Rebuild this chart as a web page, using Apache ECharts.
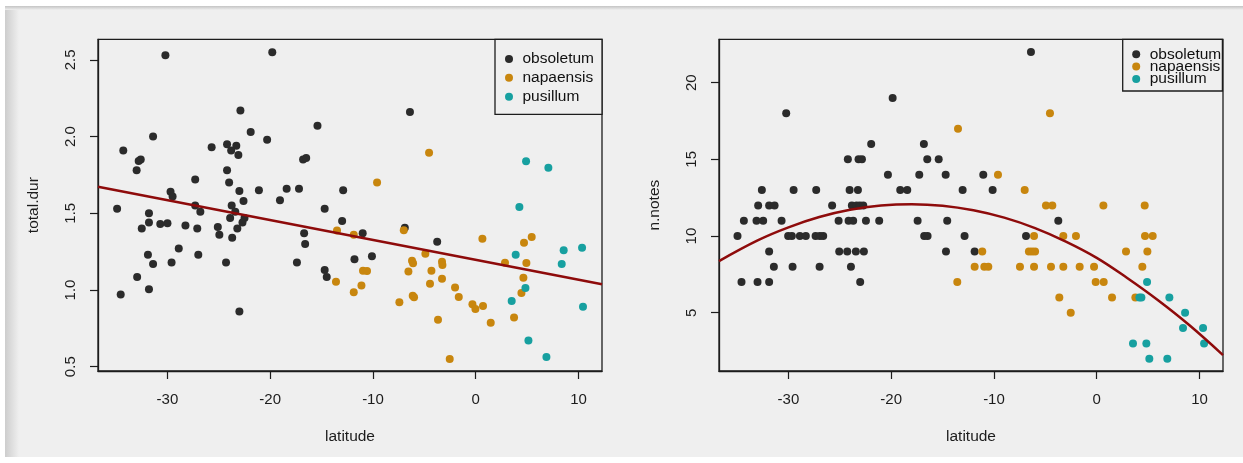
<!DOCTYPE html>
<html>
<head>
<meta charset="utf-8">
<script src="https://cdn.jsdelivr.net/npm/echarts@6/dist/echarts.min.js"></script>
<style>
  html, body { margin: 0; padding: 0; background: #ffffff; }
  #chart { width: 1243px; height: 463px; }
</style>
</head>
<body>
<div id="chart"></div>
<script>
// Species, in legend order, and their point colours
const speciesNames = ['obsoletum', 'napaensis', 'pusillum'];
const speciesColors = ['#2b2b2b', '#c8860e', '#17a0a0'];

// Left panel: latitude vs total call duration, one [latitude, total.dur] pair per recording
const durObsoletum = [
  [-30.2, 2.53], [-19.8, 2.55], [-22.9, 2.17], [-31.4, 2.00], [-34.3, 1.91], [-25.7, 1.93],
  [-24.2, 1.95], [-23.3, 1.94], [-23.8, 1.91], [-23.1, 1.88], [-21.9, 2.03], [-20.3, 1.98],
  [-15.4, 2.07], [-33.0, 1.78], [-32.8, 1.84], [-32.6, 1.85], [-24.2, 1.78], [-24.0, 1.70],
  [-27.3, 1.72], [-16.8, 1.85], [-16.5, 1.86], [-23.0, 1.645], [-21.1, 1.65], [-18.4, 1.66],
  [-17.2, 1.66], [-12.9, 1.65], [-29.7, 1.64], [-29.5, 1.61], [-22.6, 1.58], [-19.05, 1.585],
  [-34.9, 1.53], [-14.7, 1.53], [-23.75, 1.55], [-31.8, 1.50], [-27.3, 1.55], [-26.8, 1.51],
  [-23.4, 1.51], [-23.9, 1.47], [-22.5, 1.47], [-22.7, 1.44], [-23.2, 1.40], [-23.7, 1.34],
  [-31.8, 1.44], [-32.5, 1.40], [-30.7, 1.43], [-30.0, 1.435], [-28.25, 1.42], [-27.1, 1.40],
  [-25.1, 1.41], [-24.95, 1.36], [-16.7, 1.37], [-16.6, 1.30], [-13.0, 1.45], [-31.9, 1.23],
  [-31.4, 1.17], [-28.9, 1.27], [-29.6, 1.18], [-27.0, 1.23], [-24.3, 1.18], [-17.4, 1.18],
  [-14.7, 1.13], [-14.5, 1.085], [-32.95, 1.085], [-31.8, 1.005], [-34.55, 0.97], [-23.0, 0.86],
  [-11.8, 1.20], [-11.0, 1.37], [-10.1, 1.22], [-6.9, 1.405], [-6.4, 2.16], [-3.75, 1.315]
];
const durNapaensis = [
  [-9.6, 1.70], [-13.5, 1.387], [-11.87, 1.36], [-7.0, 1.39], [-13.6, 1.054], [-11.87, 0.985],
  [-11.12, 1.03], [-10.97, 1.126], [-10.58, 1.124], [-7.43, 0.92], [-6.55, 1.12], [-6.2, 1.19],
  [-6.1, 1.175], [-6.13, 0.963], [-6.0, 0.952], [-4.9, 1.237], [-4.31, 1.126], [-4.45, 1.041],
  [-3.28, 1.184], [-3.24, 1.163], [-3.28, 1.074], [-3.67, 0.806], [-2.01, 1.017], [-1.65, 0.954],
  [-2.53, 0.55], [-0.32, 0.907], [-0.03, 0.876], [0.71, 0.896], [0.65, 1.334], [1.46, 0.787],
  [2.85, 1.178], [3.73, 0.82], [4.7, 1.308], [5.45, 1.345], [4.93, 1.176], [4.64, 1.08],
  [4.45, 0.98], [-4.54, 1.895]
];
const durPusillum = [
  [4.9, 1.839], [7.07, 1.797], [4.25, 1.541], [3.89, 1.23], [8.56, 1.259], [10.35, 1.276],
  [8.37, 1.17], [4.84, 1.013], [3.5, 0.928], [10.44, 0.891], [5.13, 0.67], [6.88, 0.563]
];

// Right panel: latitude vs number of notes, one [latitude, n.notes] pair per recording
const notesObsoletum = [
  [-6.4, 22], [-19.86, 19], [-30.22, 18], [-21.95, 16], [-16.82, 16],
  [-24.22, 15], [-23.18, 15], [-22.85, 15], [-16.49, 15], [-15.38, 15],
  [-20.32, 14], [-17.27, 14], [-14.7, 14], [-11.04, 14],
  [-32.59, 13], [-29.5, 13], [-27.3, 13], [-24.05, 13], [-23.24, 13], [-19.12, 13], [-18.44, 13], [-13.05, 13], [-10.13, 13],
  [-32.95, 12], [-31.88, 12], [-31.35, 12], [-25.75, 12], [-23.83, 12], [-23.37, 12], [-23.05, 12], [-22.72, 12],
  [-34.34, 11], [-33.11, 11], [-32.46, 11], [-30.67, 11], [-25.12, 11], [-24.15, 11], [-23.7, 11], [-22.46, 11],
  [-21.17, 11], [-17.43, 11], [-14.55, 11], [-3.74, 11],
  [-34.96, 10], [-30.03, 10], [-29.67, 10], [-28.89, 10], [-28.31, 10], [-27.36, 10], [-26.94, 10], [-26.62, 10],
  [-16.79, 10], [-16.46, 10], [-12.86, 10], [-6.88, 10],
  [-31.88, 9], [-25.06, 9], [-24.28, 9], [-23.44, 9], [-22.66, 9], [-14.67, 9], [-11.88, 9],
  [-31.42, 8], [-29.6, 8], [-26.97, 8], [-23.92, 8],
  [-34.57, 7], [-33.01, 7], [-31.88, 7], [-23.02, 7]
];
const notesNapaensis = [
  [-4.55, 18], [-13.5, 17], [-9.61, 14], [-7.01, 13],
  [-4.94, 12], [-4.32, 12], [0.65, 12], [4.67, 12],
  [-6.1, 10], [-3.25, 10], [-2.02, 10], [4.7, 10], [5.45, 10],
  [-11.14, 9], [-6.6, 9], [-6.3, 9], [-6.0, 9], [2.85, 9], [4.93, 9],
  [-11.88, 8], [-10.94, 8], [-10.55, 8], [-7.47, 8], [-6.1, 8], [-4.45, 8], [-3.25, 8], [-1.66, 8], [-0.26, 8], [4.44, 8],
  [-13.57, 7], [-0.1, 7], [0.68, 7],
  [-3.64, 6], [1.49, 6], [3.76, 6],
  [-2.53, 5]
];
const notesPusillum = [
  [4.9, 7], [4.15, 6], [4.35, 6], [7.07, 6], [8.6, 5], [8.4, 4], [10.35, 4],
  [3.53, 3], [4.83, 3], [10.45, 3], [5.12, 2], [6.87, 2]
];

// Fitted trends: straight line for duration, curved fit for note count
const fitLineLat = [-36.76, 12.29];
const fitLineDur = [1.673, 1.037];
const fitCurveLat = [-36.76, -33, -30, -27, -24, -21, -18, -15, -12, -9, -6, -3, 0, 3, 6, 9, 12.29];
const fitCurveNotes = [8.37, 9.72, 10.57, 11.24, 11.71, 11.99, 12.08, 11.98, 11.68, 11.2, 10.52, 9.64, 8.58, 7.25, 5.8, 4.2, 2.24];

// Tick labels
const latTicks = [-30, -20, -10, 0, 10];
const durTicks = [0.5, 1.0, 1.5, 2.0, 2.5];
const notesTicks = [5, 10, 15, 20];

const FONT = '"Liberation Sans", Arial, Helvetica, sans-serif';
const INK = '#1c1c1c';
const FIT_COLOR = '#8e0b0b';

const chart = echarts.init(document.getElementById('chart'), null, { renderer: 'canvas' });

function pairs(xs, ys) { return xs.map((x, i) => [x, ys[i]]); }

// Axis line sits on the plot frame; ticks point outwards like a base-graphics box plot
function xAxisFor(gridIndex) {
  return {
    type: 'value', gridIndex, min: -36.76, max: 12.29,
    name: 'latitude', nameLocation: 'middle', nameGap: 58,
    nameTextStyle: { fontFamily: FONT, fontSize: 15.5, color: INK },
    axisLine: { show: true, onZero: false, lineStyle: { color: INK, width: 1.3 } },
    axisTick: { show: true, inside: false, length: 8, customValues: latTicks, lineStyle: { color: INK, width: 1.2 } },
    axisLabel: { customValues: latTicks, margin: 21, fontFamily: FONT, fontSize: 15, color: INK },
    splitLine: { show: false }
  };
}

function yAxisFor(gridIndex, name, min, max, ticks, fmt) {
  return {
    type: 'value', gridIndex, min, max,
    name, nameLocation: 'middle', nameGap: 56, nameRotate: 90,
    nameTextStyle: { fontFamily: FONT, fontSize: 15.5, color: INK },
    axisLine: { show: true, onZero: false, lineStyle: { color: INK, width: 1.3 } },
    axisTick: { show: true, inside: false, length: 8, customValues: ticks, lineStyle: { color: INK, width: 1.2 } },
    axisLabel: { customValues: ticks, rotate: 90, margin: 20, fontFamily: FONT, fontSize: 15, color: INK, formatter: fmt },
    splitLine: { show: false }
  };
}

function scatter(name, idx, xi, data) {
  return {
    type: 'scatter', name, xAxisIndex: xi, yAxisIndex: xi, data,
    symbol: 'circle', symbolSize: 8,
    itemStyle: { color: speciesColors[idx], opacity: 1 },
    emphasis: { disabled: true }, animation: false
  };
}

function legendAt(left, padding, itemGap) {
  return {
    data: speciesNames, orient: 'vertical', left, top: 39.3,
    padding, itemGap, itemWidth: 17, itemHeight: 8, icon: 'circle',
    selectedMode: false, backgroundColor: '#efefef',
    borderColor: INK, borderWidth: 1.3, borderRadius: 0,
    textStyle: { fontFamily: FONT, fontSize: 15.5, color: '#111' }
  };
}

const option = {
  animation: false,
  backgroundColor: '#ffffff',
  graphic: [
    { type: 'rect', z: -10, shape: { x: 5, y: 7, width: 1238, height: 450 }, style: { fill: '#efefef' } },
    { type: 'rect', z: -9, shape: { x: 5, y: 7, width: 14, height: 450 },
      style: { fill: new echarts.graphic.LinearGradient(0, 0, 1, 0, [
        { offset: 0, color: '#cdcdcd' }, { offset: 1, color: '#efefef' }]) } },
    { type: 'rect', z: -9, shape: { x: 5, y: 6, width: 1238, height: 4 },
      style: { fill: new echarts.graphic.LinearGradient(0, 0, 0, 1, [
        { offset: 0, color: '#c4c4c4' }, { offset: 1, color: '#efefef' }]) } }
  ],
  grid: [
    { left: 98, top: 39.3, width: 504, height: 331.7, show: true, borderColor: INK, borderWidth: 1.3, backgroundColor: 'transparent' },
    { left: 719, top: 39.3, width: 504, height: 331.7, show: true, borderColor: INK, borderWidth: 1.3, backgroundColor: 'transparent' }
  ],
  xAxis: [xAxisFor(0), xAxisFor(1)],
  yAxis: [
    yAxisFor(0, 'total.dur', 0.472, 2.634, durTicks, v => v.toFixed(1)),
    yAxisFor(1, 'n.notes', 1.2, 22.83, notesTicks, v => String(v))
  ],
  legend: [
    legendAt(495, [11.7, 8, 9.6, 10], 2.85),
    legendAt(1122.7, [7, 1.2, 4.1, 9.5], -3.7)
  ],
  series: [
    scatter('obsoletum', 0, 0, durObsoletum),
    scatter('napaensis', 1, 0, durNapaensis),
    scatter('pusillum', 2, 0, durPusillum),
    scatter('obsoletum', 0, 1, notesObsoletum),
    scatter('napaensis', 1, 1, notesNapaensis),
    scatter('pusillum', 2, 1, notesPusillum),
    {
      type: 'line', name: 'fit.dur', xAxisIndex: 0, yAxisIndex: 0,
      data: pairs(fitLineLat, fitLineDur), showSymbol: false, clip: true, z: 5,
      lineStyle: { color: FIT_COLOR, width: 2.5 }, emphasis: { disabled: true }
    },
    {
      type: 'line', name: 'fit.notes', xAxisIndex: 1, yAxisIndex: 1,
      data: pairs(fitCurveLat, fitCurveNotes), showSymbol: false, smooth: 0.4, clip: true, z: 5,
      lineStyle: { color: FIT_COLOR, width: 2.5 }, emphasis: { disabled: true }
    }
  ]
};

chart.setOption(option);
</script>
</body>
</html>
